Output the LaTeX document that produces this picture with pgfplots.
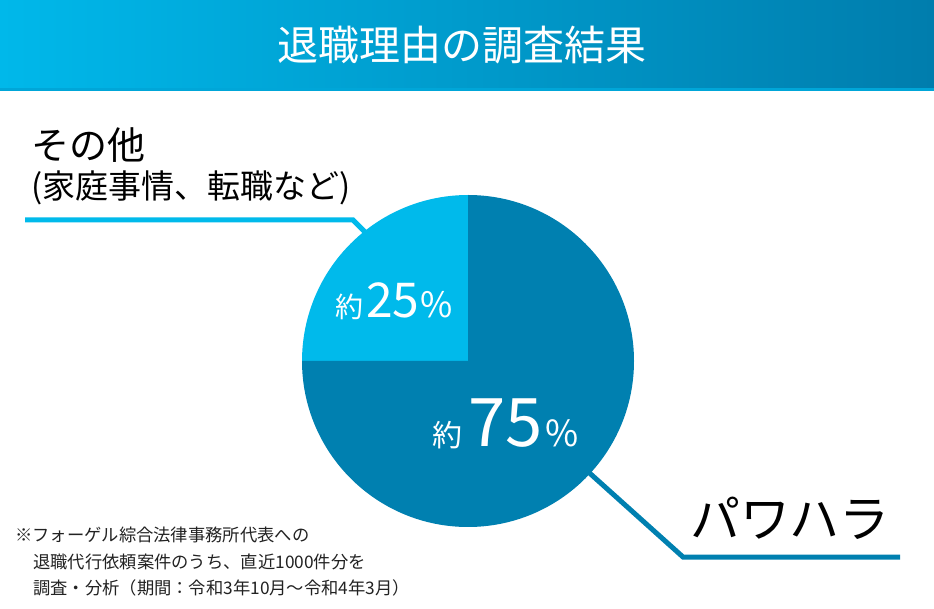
\documentclass[border=0pt]{standalone}
\usepackage{fontspec}
\setmainfont{Noto Sans CJK JP}
\usepackage{pgfplots}
\pgfplotsset{compat=1.18}
\usepackage{pgfplotstable}
\definecolor{darkb}{HTML}{0080B0}
\definecolor{lightb}{HTML}{00BAEB}
\definecolor{titleL}{HTML}{00B8EA}
\definecolor{titleR}{HTML}{007DAD}
\definecolor{notec}{HTML}{222222}
\pgfplotstableread{
label value
other 25
pawahara 75
}\piedata
\newcommand\fs[1]{\fontsize{#1}{#1}\selectfont}
\begin{document}
\begin{tikzpicture}
\pgfplotstablegetelem{0}{value}\of\piedata \let\va\pgfplotsretval
\pgfmathsetmacro\angA{90+3.6*\va}
\begin{axis}[hide axis, x=1pt, y=1pt, xmin=0, xmax=934, ymin=0, ymax=608,
  scale only axis, clip=false]
\path[fill=white] (axis cs:0,0) rectangle (axis cs:934,608);
% title band
\shade[left color=titleL, right color=titleR] (axis cs:0,520) rectangle (axis cs:934,608);
\fill[titleL!70!titleR] (axis cs:0,517) rectangle (axis cs:934,520);
\node[text=white, font=\fs{41}, inner sep=0] at (axis cs:462,563) {退職理由の調査結果};
% leader lines
\draw[lightb, line width=5pt] (axis cs:25,388) -- (axis cs:353,388) -- (axis cs:390,351);
\draw[darkb, line width=5pt] (axis cs:900,51) -- (axis cs:683,51) -- (axis cs:565,157);
% pie
\fill[lightb] (axis cs:468,247) -- ++(90:166pt) arc[start angle=90, end angle=\angA, radius=166pt] -- cycle;
\fill[darkb] (axis cs:468,247) -- ++(\angA:166pt) arc[start angle=\angA, end angle=450, radius=166pt] -- cycle;
% pie labels
\node[text=white, anchor=base west, inner sep=0] at (axis cs:335,290)
  {{\fs{28}約}\hspace{3pt}{\fs{48}25}\hspace{1pt}{\fs{35}\%}};
\node[text=white, anchor=base west, inner sep=0] at (axis cs:432,161)
  {{\fs{30}約}\hspace{6pt}{\fs{67}75}\hspace{3pt}{\fs{36}\%}};
% category labels
\node[anchor=west, inner sep=0, font=\fs{38}] at (axis cs:31,463) {その他};
\node[anchor=west, inner sep=0, font=\fs{33}] at (axis cs:31,420) {(家庭事情、転職など)};
\node[anchor=west, inner sep=0, font=\fs{50}] at (axis cs:690,90) {パワハラ};
% footnote
\node[anchor=west, inner sep=0, font=\fs{17.3}, text=notec] at (axis cs:15,73) {※フォーゲル綜合法律事務所代表への};
\node[anchor=west, inner sep=0, font=\fs{17.3}, text=notec] at (axis cs:33,46) {退職代行依頼案件のうち、直近1000件分を};
\node[anchor=west, inner sep=0, font=\fs{17.3}, text=notec] at (axis cs:33,20) {調査・分析（期間：令和3年10月～令和4年3月）};
\end{axis}
\end{tikzpicture}
\end{document}
